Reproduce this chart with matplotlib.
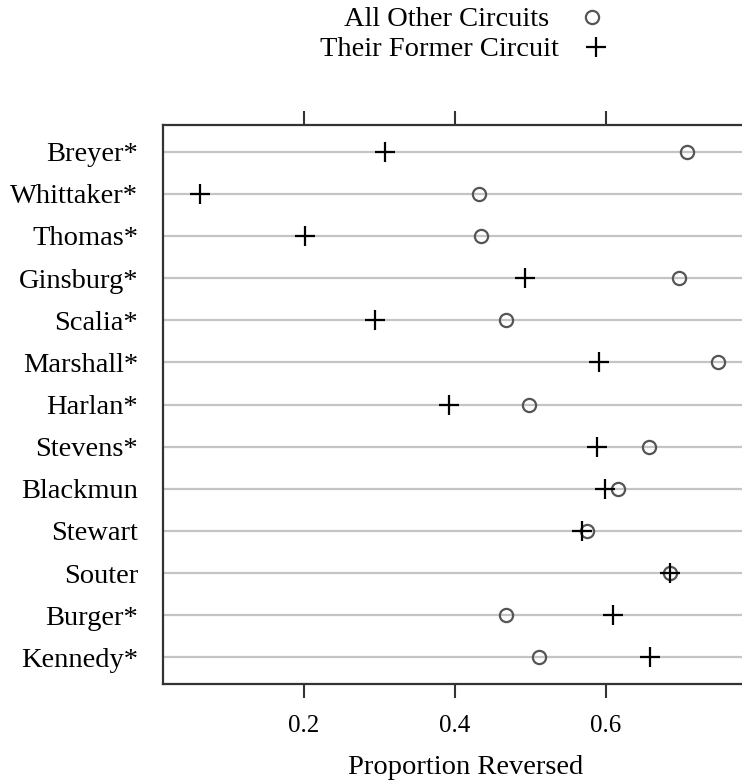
import matplotlib
matplotlib.use("Agg")
import matplotlib.pyplot as plt
from matplotlib.lines import Line2D

# justices, top to bottom, with proportion of cases reversed
justices = ["Breyer*", "Whittaker*", "Thomas*", "Ginsburg*", "Scalia*",
            "Marshall*", "Harlan*", "Stevens*", "Blackmun", "Stewart",
            "Souter", "Burger*", "Kennedy*"]
other_circuits = [0.707, 0.432, 0.434, 0.697, 0.468, 0.748, 0.498,
                  0.657, 0.616, 0.575, 0.685, 0.468, 0.511]
former_circuit = [0.307, 0.062, 0.201, 0.493, 0.294, 0.591, 0.392,
                  0.588, 0.599, 0.568, 0.685, 0.609, 0.658]
xticks = [0.2, 0.4, 0.6]

plt.rcParams["font.family"] = ["Liberation Serif", "DejaVu Serif"]
plt.rcParams["font.size"] = 20.5

W, H = 742, 783
fig = plt.figure(figsize=(W / 100, H / 100), dpi=100)
left, right, top, bottom = 163, 770, 125, 684
ax = fig.add_axes([left / W, 1 - bottom / H, (right - left) / W, (bottom - top) / H])

ypos = list(range(len(justices)))
for y in ypos:
    ax.axhline(y, color="#c4c4c4", lw=1.6, zorder=1)

ax.plot(other_circuits, ypos, ls="none", marker="o", ms=9.5, mfc="none",
        mec="#555555", mew=1.6, zorder=3)
ax.plot(former_circuit, ypos, ls="none", marker="+", ms=14, mec="black",
        mew=1.6, zorder=4)

x0 = 0.2 - (304 - left) / 755
ax.set_xlim(x0, x0 + (right - left) / 755)
ax.set_ylim(len(justices) - 1 + 0.63, -0.63)

ax.set_yticks(ypos)
ax.set_yticklabels(justices)
ax.set_xticks(xticks)
ax.set_xticklabels([f"{v:.1f}" for v in xticks], fontsize=18)
ax.tick_params(axis="y", length=0, pad=18)
ax.tick_params(axis="x", top=True, direction="out", length=10, width=1.5,
               color="#333333", pad=12)
for s in ["left", "top", "bottom"]:
    ax.spines[s].set_color("#333333")
    ax.spines[s].set_linewidth(1.6)
ax.spines["right"].set_visible(False)

fig.text(466 / W, 1 - 768 / H, "Proportion Reversed", ha="center", va="center")

# key at the top
fig.text(549 / W, 1 - 19 / H, "All Other Circuits", ha="right", va="center")
fig.text(559 / W, 1 - 50 / H, "Their Former Circuit", ha="right", va="center")
fig.add_artist(Line2D([592 / W], [1 - 17 / H], transform=fig.transFigure,
                      ls="none", marker="o", ms=9.5, mfc="none", mec="#555555", mew=1.6))
fig.add_artist(Line2D([596 / W], [1 - 47 / H], transform=fig.transFigure,
                      ls="none", marker="+", ms=14, mec="black", mew=1.6))

fig.savefig("out.png", dpi=100)
